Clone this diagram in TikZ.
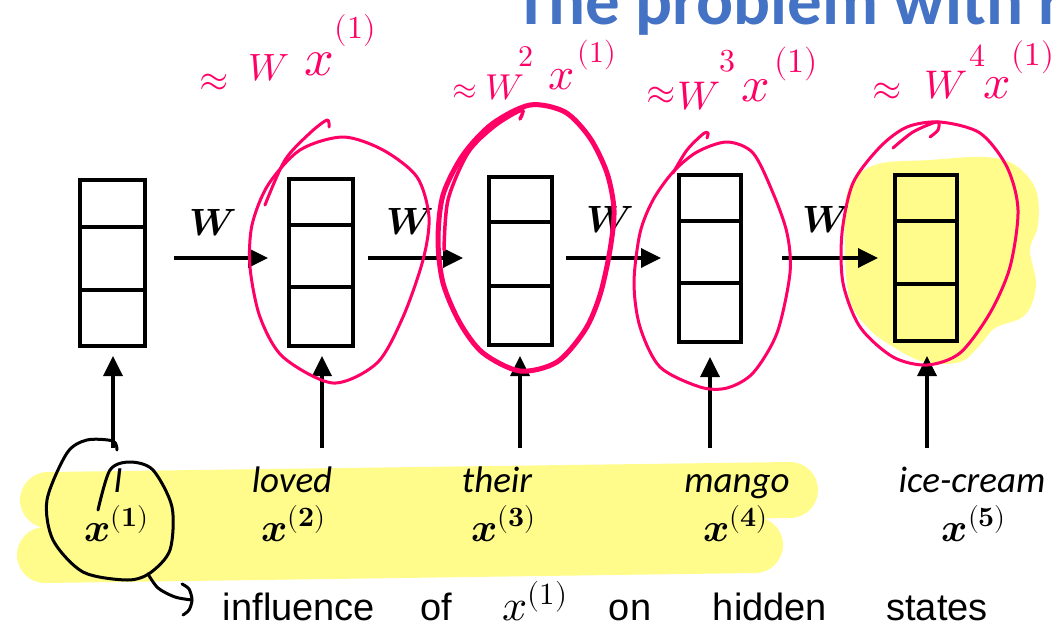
\documentclass[tikz,border=0pt]{standalone}
\usepackage{amsmath}
\usepackage{fontspec}
\usepackage{unicode-math}
\setmainfont{Carlito}
\setmathfont{Latin Modern Math}
\newfontfamily\handfont{Liberation Sans}
\usetikzlibrary{arrows.meta,calc}
\definecolor{titleblue}{HTML}{4472C4}
\definecolor{inkpink}{HTML}{FF0066}
\definecolor{hiyellow}{HTML}{FFFC8C}
\tikzset{
  box/.style={draw=black,line width=4pt,inner sep=0pt},
  divider/.style={line width=4pt},
  flow/.style={line width=3.5pt,-{Triangle[length=20pt,width=19pt]}},
  wlabel/.style={font=\fontsize{38}{40}\selectfont,inner sep=0pt},
  word/.style={font=\fontsize{37}{40}\selectfont\itshape,inner sep=0pt,anchor=base},
  xin/.style={font=\fontsize{40}{44}\selectfont,inner sep=0pt,anchor=base},
  pinkink/.style={draw=inkpink,line width=3pt,line cap=round,line join=round},
  pinktext/.style={text=inkpink,inner sep=0pt},
  blackink/.style={draw=black,line width=3pt,line cap=round,line join=round},
  handtext/.style={font=\handfont\fontsize{38}{44}\selectfont,inner sep=0pt,anchor=base},
  hilite/.style={draw=hiyellow,line cap=round,line width=56pt},
}
\begin{document}
\begin{tikzpicture}[x=1pt,y=-1pt]
\useasboundingbox (0,0) rectangle (1057,637);
\clip (0,0) rectangle (1057,637);
\fill[white] (0,0) rectangle (1057,637);

% yellow highlights
\draw[hilite] (48,500) -- (790,490);
\draw[hilite] (45,555) -- (755,545);
\fill[hiyellow] plot[smooth cycle, tension=0.6] coordinates {(848,190) (875,165) (930,160) (985,157) (1015,165) (1036,190) (1038,225) (1030,250) (1036,285) (1025,315) (995,328) (980,345) (960,362) (925,362) (895,348) (868,328) (850,300) (845,250)};

% title
\node[anchor=base west,font=\bfseries\fontsize{69}{70}\selectfont,text=titleblue,inner sep=0pt] (title) at (514,24) {The problem with r};

% hidden state boxes
\node[box,minimum width=65pt,minimum height=166pt] (h1) at (112.5,263) {};
\node[box,minimum width=64pt,minimum height=167pt] (h2) at (321,262.5) {};
\node[box,minimum width=63pt,minimum height=168pt] (h3) at (520.5,261) {};
\node[box,minimum width=62pt,minimum height=167pt] (h4) at (710,258.5) {};
\node[box,minimum width=62pt,minimum height=166pt] (h5) at (926,258) {};

\coordinate (d1a) at (0,227); \coordinate (d1b) at (0,290);
\coordinate (d2a) at (0,225); \coordinate (d2b) at (0,287);
\coordinate (d3a) at (0,222); \coordinate (d3b) at (0,286);
\coordinate (d4a) at (0,221); \coordinate (d4b) at (0,283);
\coordinate (d5a) at (0,221); \coordinate (d5b) at (0,284);
\draw[divider] (h1.west |- d1a) -- (h1.east |- d1a);
\draw[divider] (h1.west |- d1b) -- (h1.east |- d1b);
\draw[divider] (h2.west |- d2a) -- (h2.east |- d2a);
\draw[divider] (h2.west |- d2b) -- (h2.east |- d2b);
\draw[divider] (h3.west |- d3a) -- (h3.east |- d3a);
\draw[divider] (h3.west |- d3b) -- (h3.east |- d3b);
\draw[divider] (h4.west |- d4a) -- (h4.east |- d4a);
\draw[divider] (h4.west |- d4b) -- (h4.east |- d4b);
\draw[divider] (h5.west |- d5a) -- (h5.east |- d5a);
\draw[divider] (h5.west |- d5b) -- (h5.east |- d5b);

% recurrent arrows
\coordinate (yarr) at (0,258);
\draw[flow,shorten <=27pt,shorten >=19pt] (h1.east |- yarr) -- (h2.west |- yarr);
\draw[flow,shorten <=13pt,shorten >=24pt] (h2.east |- yarr) -- (h3.west |- yarr);
\draw[flow,shorten <=12pt,shorten >=16pt] (h3.east |- yarr) -- (h4.west |- yarr);
\draw[flow,shorten <=39pt,shorten >=15pt] (h4.east |- yarr) -- (h5.west |- yarr);

\node[wlabel] (w1) at (213,223) {$\symbfit{W}$};
\node[wlabel] (w2) at (410,222) {$\symbfit{W}$};
\node[wlabel] (w3) at (610,220) {$\symbfit{W}$};
\node[wlabel] (w4) at (826,220) {$\symbfit{W}$};

% input arrows
\coordinate (v1) at (113,448);
\coordinate (v2) at (322,448);
\coordinate (v3) at (520,448);
\coordinate (v4) at (710,448);
\coordinate (v5) at (927,448);
\draw[flow,shorten >=8pt] (v1) -- (v1 |- h1.south);
\draw[flow,shorten >=8pt] (v2) -- (v2 |- h2.south);
\draw[flow,shorten >=9pt] (v3) -- (v3 |- h3.south);
\draw[flow,shorten >=13pt] (v4) -- (v4 |- h4.south);
\draw[flow,shorten >=13pt] (v5) -- (v5 |- h5.south);

% words
\node[word] (t1) at (118,492) {I};
\node[word] (t2) at (292,492) {loved};
\node[word] (t3) at (497,492) {their};
\node[word] (t4) at (737,492) {mango};
\node[word] (t5) at (972,492) {ice-cream};

\node[xin] (x1) at (117,541) {$\symbfit{x}^{(\symbf{1})}$};
\node[xin] (x2) at (294,541) {$\symbfit{x}^{(\symbf{2})}$};
\node[xin] (x3) at (504,541) {$\symbfit{x}^{(\symbf{3})}$};
\node[xin] (x4) at (736,541) {$\symbfit{x}^{(\symbf{4})}$};
\node[xin] (x5) at (974,541) {$\symbfit{x}^{(\symbf{5})}$};

% pink annotations: ellipses
\draw[pinkink] plot[smooth cycle] coordinates {(343,137) (383,150) (417,177) (429,217) (423,260) (403,317) (377,363) (333,383) (283,357) (260,317) (250,267) (252,225) (268,185) (300,150)};
\draw[pinkink] plot[smooth] coordinates {(265,205) (285,160) (310,133) (327,120) (329,127)};

\draw[pinkink,line width=5pt] plot[smooth cycle] coordinates {(530,105) (565,112) (590,138) (607,173) (614,210) (610,250) (600,295) (585,330) (557,362) (520,371) (483,353) (460,323) (443,283) (438,240) (443,195) (463,155) (492,124)};
\draw[pinkink,line width=3.5pt] plot[smooth] coordinates {(444,250) (448,200) (468,153) (495,126) (522,110) (520,119)};

\draw[pinkink] plot[smooth cycle] coordinates {(727,142) (753,153) (773,193) (787,233) (790,273) (777,333) (753,373) (727,388) (700,387) (660,367) (640,327) (634,283) (640,233) (653,200) (673,172) (697,152)};
\draw[pinkink] plot[smooth] coordinates {(673,173) (687,150) (703,134) (708,133) (707,138)};

\draw[pinkink] plot[smooth cycle] coordinates {(940,122) (980,133) (1007,167) (1018,210) (1010,267) (990,313) (960,353) (927,365) (893,357) (860,327) (843,283) (842,233) (853,183) (880,147) (907,127)};
\draw[pinkink] plot[smooth] coordinates {(893,148) (913,132) (937,122) (938,130) (930,137)};

% pink annotations: labels
\node[pinktext,font=\fontsize{38}{40}\selectfont] (a1) at (214,83) {$\approx$};
\node[pinktext,font=\fontsize{38}{40}\selectfont] (aw1) at (269,68) {$W$};
\node[pinktext,font=\fontsize{52}{54}\selectfont] (ax1) at (319,64) {$x$};
\node[pinktext,font=\fontsize{32}{36}\selectfont] (as1) at (355,30) {$(1)$};

\node[pinktext,font=\fontsize{32}{36}\selectfont] (a2) at (465,92) {$\approx$};
\node[pinktext,font=\fontsize{36}{40}\selectfont] (aw2) at (505,88) {$W$};
\node[pinktext,font=\fontsize{30}{36}\selectfont] (ae2) at (526,57) {$2$};
\node[pinktext,font=\fontsize{46}{50}\selectfont] (ax2) at (562,80) {$x$};
\node[pinktext,font=\fontsize{30}{36}\selectfont] (as2) at (597,55) {$(1)$};

\node[pinktext,font=\fontsize{38}{40}\selectfont] (a3) at (661,96) {$\approx$};
\node[pinktext,font=\fontsize{40}{44}\selectfont] (aw3) at (699,96) {$W$};
\node[pinktext,font=\fontsize{32}{40}\selectfont] (ae3) at (727,61) {$3$};
\node[pinktext,font=\fontsize{50}{54}\selectfont] (ax3) at (756,91) {$x$};
\node[pinktext,font=\fontsize{34}{44}\selectfont] (as3) at (796,64) {$(1)$};

\node[pinktext,font=\fontsize{38}{40}\selectfont] (a4) at (887,92) {$\approx$};
\node[pinktext,font=\fontsize{40}{44}\selectfont] (aw4) at (946,85) {$W$};
\node[pinktext,font=\fontsize{32}{40}\selectfont] (ae4) at (977,56) {$4$};
\node[pinktext,font=\fontsize{48}{54}\selectfont] (ax4) at (997,88) {$x$};
\node[pinktext,font=\fontsize{33}{44}\selectfont] (as4) at (1033,57) {$(1)$};

% black annotation
\draw[blackink] plot[smooth] coordinates {(117,450) (113,441) (87,440) (67,453) (47,500) (53,540) (83,572) (127,580) (150,573) (170,550) (172,507) (153,470) (130,462) (110,470) (98,510)};
\draw[blackink] plot[smooth] coordinates {(148,574) (158,588) (175,597) (192,600)};
\draw[blackink] plot[smooth] coordinates {(182,584) (189,589) (192,600) (189,610) (183,615)};

\node[handtext] (n1) at (299,620) {influence};
\node[handtext] (n2) at (436,620) {of};
\node[handtext,font=\fontsize{44}{48}\selectfont] (n3) at (535,620) {$x^{(1)}$};
\node[handtext] (n4) at (630,620) {on};
\node[handtext] (n5) at (770,620) {hidden};
\node[handtext] (n6) at (937,620) {states};
\end{tikzpicture}
\end{document}
